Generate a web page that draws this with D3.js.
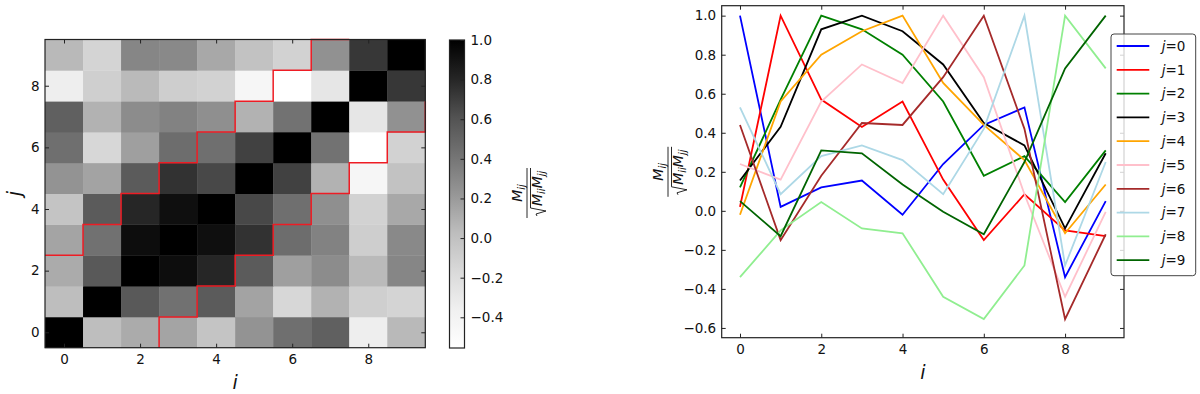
<!DOCTYPE html>
<html>
<head>
<meta charset="utf-8">
<script src="https://cdn.jsdelivr.net/npm/d3@7"></script>
<style>
  body { margin: 0; background: #fff; }
  svg { font-family: "DejaVu Sans", sans-serif; }
</style>
</head>
<body>
<svg id="chart" width="1200" height="394"></svg>
<script>
// indices i / j
const indices = [0, 1, 2, 3, 4, 5, 6, 7, 8, 9];
const tickVals = [0, 2, 4, 6, 8];

// normalised matrix, one row per j (symmetric)
const row0 = [1.00, 0.02, 0.12, 0.155, -0.02, 0.24, 0.44, 0.53, -0.34, 0.05];
const row1 = [0.02, 1.00, 0.57, 0.43, 0.56, 0.16, -0.15, 0.085, -0.10, -0.13];
const row2 = [0.12, 0.57, 1.00, 0.93, 0.80, 0.56, 0.18, 0.28, 0.045, 0.31];
const row3 = [0.155, 0.43, 0.93, 1.00, 0.92, 0.75, 0.45, 0.335, -0.09, 0.295];
const row4 = [-0.02, 0.56, 0.80, 0.92, 1.00, 0.655, 0.44, 0.26, -0.115, 0.135];
const row5 = [0.24, 0.16, 0.56, 0.75, 0.655, 1.00, 0.685, 0.085, -0.44, -0.005];
const row6 = [0.44, -0.15, 0.18, 0.45, 0.44, 0.685, 1.00, 0.42, -0.555, -0.12];
const row7 = [0.53, 0.085, 0.28, 0.335, 0.26, 0.085, 0.42, 1.00, -0.28, 0.25];
const row8 = [-0.34, -0.10, 0.045, -0.09, -0.115, -0.44, -0.555, -0.28, 1.00, 0.73];
const row9 = [0.05, -0.13, 0.31, 0.295, 0.135, -0.005, -0.12, 0.25, 0.73, 1.00];
const corr = [row0, row1, row2, row3, row4, row5, row6, row7, row8, row9];

const lineColors = ["blue", "red", "green", "black", "orange", "pink", "brown", "lightblue", "lightgreen", "darkgreen"];
const cbarTicks = [-0.4, -0.2, 0.0, 0.2, 0.4, 0.6, 0.8, 1.0];
const yTicks = [-0.6, -0.4, -0.2, 0.0, 0.2, 0.4, 0.6, 0.8, 1.0];
const bandHalfWidth = 2;

const svg = d3.select("#chart");
const ink = "#222";
const fs = "13.5px";

// matplotlib Greys
const greys = ["#ffffff", "#f0f0f0", "#d9d9d9", "#bdbdbd", "#969696", "#737373", "#525252", "#252525", "#000000"];
const vmin = d3.min(corr.flat()), vmax = d3.max(corr.flat());
const color = d3.scaleLinear()
    .domain(greys.map((c, k) => vmin + (vmax - vmin) * k / (greys.length - 1)))
    .range(greys);

// ---------- left: heatmap ----------
const hx = d3.scaleLinear().domain([-0.5, 9.5]).range([45, 425.3]);
const hy = d3.scaleLinear().domain([-0.5, 9.5]).range([347.7, 39.5]);

const cells = [];
corr.forEach((row, j) => row.forEach((v, i) => cells.push({ i, j, v })));

svg.append("g").selectAll("rect")
    .data(cells)
    .join("rect")
    .attr("x", d => hx(d.i - 0.5))
    .attr("y", d => hy(d.j + 0.5))
    .attr("width", hx(1) - hx(0) + 0.4)
    .attr("height", hy(0) - hy(1) + 0.4)
    .attr("fill", d => color(d.v));

// band outline |i-j| <= 2
const upper = [[-0.5, bandHalfWidth + 0.5]];
indices.forEach(k => {
    if (k + bandHalfWidth + 0.5 > 9.5) return;
    upper.push([k + 0.5, k + bandHalfWidth + 0.5]);
    upper.push([k + 0.5, Math.min(k + bandHalfWidth + 1.5, 9.5)]);
});
const lower = upper.map(([a, b]) => [b, a]);
const stair = d3.line().x(d => hx(d[0])).y(d => hy(d[1]));
[upper, lower].forEach(pts => {
    svg.append("path")
        .attr("d", stair(pts))
        .attr("fill", "none")
        .attr("stroke", "#ee1c24")
        .attr("stroke-width", 1.5);
});

function inwardAxes(xs, ys, xt, yt, xfmt, yfmt) {
    const [x0, x1] = xs.range(), [y0, y1] = ys.range();
    svg.append("g").attr("transform", `translate(0,${y0})`)
        .call(d3.axisBottom(xs).tickValues(xt).tickSizeInner(-4).tickSizeOuter(0).tickPadding(7).tickFormat(xfmt));
    svg.append("g").attr("transform", `translate(0,${y1})`)
        .call(d3.axisTop(xs).tickValues(xt).tickSizeInner(-4).tickSizeOuter(0).tickFormat(""));
    svg.append("g").attr("transform", `translate(${x0},0)`)
        .call(d3.axisLeft(ys).tickValues(yt).tickSizeInner(-4).tickSizeOuter(0).tickPadding(5.5).tickFormat(yfmt));
    svg.append("g").attr("transform", `translate(${x1},0)`)
        .call(d3.axisRight(ys).tickValues(yt).tickSizeInner(-4).tickSizeOuter(0).tickFormat(""));
    svg.append("rect")
        .attr("x", x0).attr("y", y1).attr("width", x1 - x0).attr("height", y0 - y1)
        .attr("fill", "none").attr("stroke", ink).attr("stroke-width", 1.2);
}

inwardAxes(hx, hy, tickVals, tickVals, d3.format("d"), d3.format("d"));

// ---------- colorbar ----------
const cbx = 449.5, cbw = 15;
const cby = d3.scaleLinear().domain([vmin, vmax]).range([348, 40]);
const grad = svg.append("defs").append("linearGradient")
    .attr("id", "cbar").attr("x1", 0).attr("y1", 1).attr("x2", 0).attr("y2", 0);
grad.selectAll("stop")
    .data(color.domain())
    .join("stop")
    .attr("offset", (d, k) => k / (greys.length - 1))
    .attr("stop-color", d => color(d));
svg.append("rect")
    .attr("x", cbx).attr("y", cby(vmax)).attr("width", cbw).attr("height", cby(vmin) - cby(vmax))
    .attr("fill", "url(#cbar)").attr("stroke", ink).attr("stroke-width", 1.2);
svg.append("g").attr("transform", `translate(${cbx + cbw},0)`)
    .call(d3.axisRight(cby).tickValues(cbarTicks).tickSizeInner(-4).tickSizeOuter(0).tickPadding(6).tickFormat(d3.format(".1f")));

// ---------- right: line chart ----------
const lx = d3.scaleLinear().domain([-0.45, 9.45]).range([721.7, 1124]);
const ly = d3.scaleLinear().domain([-0.65, 1.051]).range([337.7, 5.7]);

const line = d3.line().x((d, i) => lx(indices[i])).y(d => ly(d));
svg.append("g").selectAll("path")
    .data(corr)
    .join("path")
    .attr("d", line)
    .attr("fill", "none")
    .attr("stroke", (d, j) => lineColors[j])
    .attr("stroke-width", 1.8);

inwardAxes(lx, ly, tickVals, yTicks, d3.format("d"), d3.format(".1f"));

// style all axes
svg.selectAll(".domain").remove();
svg.selectAll(".tick line").attr("stroke", ink).attr("stroke-width", 1);
svg.selectAll(".tick text").attr("fill", "#111").style("font-size", fs).style("font-family", "DejaVu Sans");

// axis labels
function italicLabel(x, y, txt, rot) {
    svg.append("text")
        .attr("transform", `translate(${x},${y})` + (rot ? " rotate(-90)" : ""))
        .attr("text-anchor", "middle")
        .attr("dy", "0.35em")
        .style("font-size", "19px")
        .style("font-style", "italic")
        .attr("fill", "#111")
        .text(txt);
}
italicLabel(hx(4.5), 382, "i", false);
italicLabel(14, hy(4.5), "j", true);
italicLabel(lx(4.5), 372, "i", false);

// fraction label  M_ij / sqrt(M_ii M_jj)
function fracLabel(x, y) {
    const g = svg.append("g").attr("transform", `translate(${x},${y}) rotate(-90)`)
        .attr("fill", "#111").style("font-style", "italic");
    const num = g.append("text").attr("text-anchor", "middle").attr("x", 0).attr("y", -5).style("font-size", "14px");
    num.append("tspan").text("M");
    num.append("tspan").attr("dy", 3).style("font-size", "10px").text("ij");
    g.append("line").attr("x1", -25).attr("x2", 25).attr("y1", 0).attr("y2", 0)
        .attr("stroke", "#111").attr("stroke-width", 0.9);
    const den = g.append("text").attr("x", -13).attr("y", 15).style("font-size", "14px");
    den.append("tspan").text("M");
    den.append("tspan").attr("dy", 3).style("font-size", "10px").text("ii");
    den.append("tspan").attr("dy", -3).text("M");
    den.append("tspan").attr("dy", 3).style("font-size", "10px").text("jj");
    g.append("path")
        .attr("d", "M-23,10 L-21,9 L-18,19 L-15,3.5 L25,3.5")
        .attr("fill", "none").attr("stroke", "#111").attr("stroke-width", 0.9);
}
fracLabel(527, 193);
fracLabel(668, ly(0.2));

// legend
const lg = svg.append("g").attr("transform", "translate(1111,34)");
lg.append("rect")
    .attr("width", 84.7).attr("height", 241.7).attr("rx", 3)
    .attr("fill", "white").attr("fill-opacity", 0.8)
    .attr("stroke", "#444").attr("stroke-width", 1);
const ent = lg.selectAll("g.ent")
    .data(indices)
    .join("g")
    .attr("class", "ent")
    .attr("transform", j => `translate(0,${12 + j * 23.8})`);
ent.append("line")
    .attr("x1", 5.7).attr("x2", 38.3)
    .attr("stroke", j => lineColors[j]).attr("stroke-width", 1.8);
const lt = ent.append("text")
    .attr("x", 50.7).attr("dy", "0.36em")
    .style("font-size", fs).attr("fill", "#111");
lt.append("tspan").style("font-style", "italic").text("j");
lt.append("tspan").text(j => "=" + j);
</script>
</body>
</html>
